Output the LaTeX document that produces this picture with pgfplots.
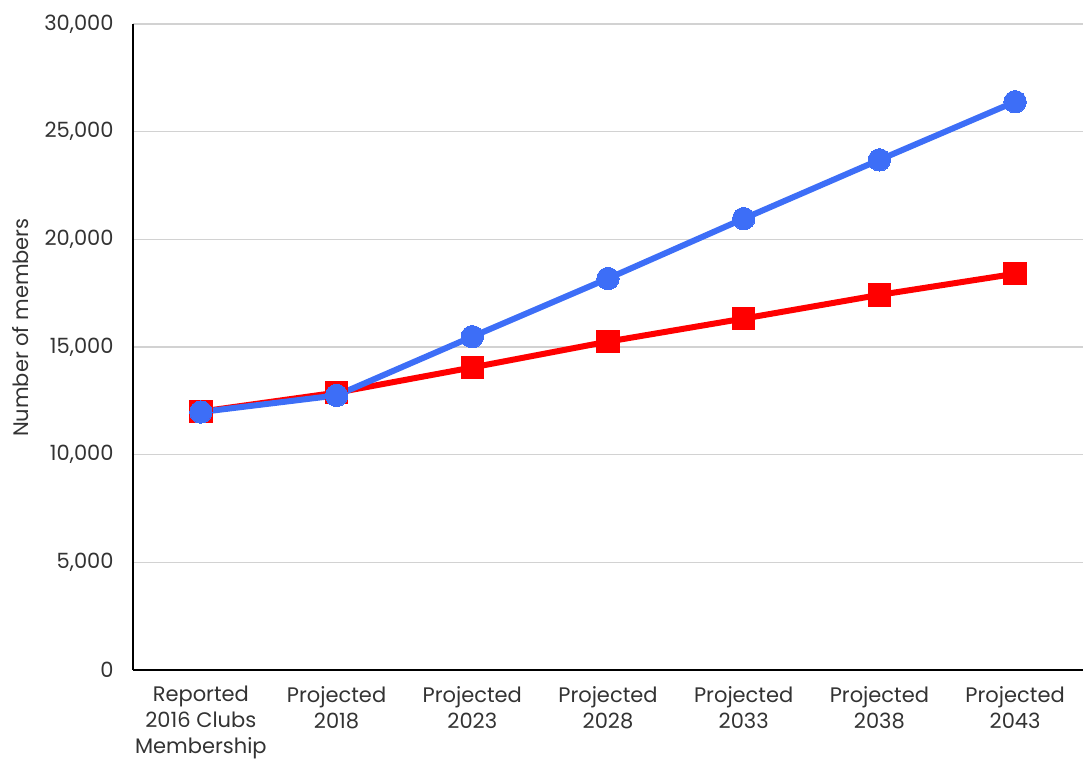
\documentclass[border=0pt]{standalone}
\usepackage{pgfplots}
\pgfplotsset{compat=1.18}
\usepackage{fontspec}
\setmainfont{Poppins}
\definecolor{myblue}{HTML}{3D6EF7}
\definecolor{myred}{HTML}{FF0000}
\begin{document}
\fontsize{10.5}{13.5}\selectfont
\begin{tikzpicture}
\begin{axis}[
  at={(0,0)}, anchor=south west,
  scale only axis, width=475pt, height=323pt,
  xmin=-0.5, xmax=6.5, ymin=0, ymax=30000,
  axis x line=bottom, axis y line=left,
  axis line style={black, line width=1pt, -},
  xtick={0,...,6},
  xticklabels={{Reported\\2016 Clubs\\Membership},{Projected\\2018},{Projected\\2023},{Projected\\2028},{Projected\\2033},{Projected\\2038},{Projected\\2043}},
  xticklabel style={align=center, font=\fontsize{10.5}{13}\selectfont, color=black!80, yshift=-4.5pt},
  ytick={0,5000,...,30000},
  yticklabel style={font=\fontsize{10.5}{13.5}\selectfont, color=black!80, xshift=-6pt},
  major tick length=0pt,
  ymajorgrids, grid style={gray!35, line width=0.8pt},
  /pgf/number format/.cd, 1000 sep={,}, assume math mode=true, /pgfplots/.cd,
  scaled y ticks=false,
  ylabel={Number of members},
  every axis y label/.style={at={(axis description cs:0,0.53)}, xshift=-56pt, rotate=90, anchor=center, font=\fontsize{10.5}{13.5}\selectfont, color=black!80},
  clip=false,
]
\addplot[myred, line width=3pt, mark=square*, mark size=5.6pt, mark options={solid, fill=myred, draw=myred, line width=0pt}] coordinates {
(0,12000) (1,12880) (2,14050) (3,15250) (4,16320) (5,17420) (6,18400)};
\addplot[myblue, line width=3pt, mark=*, mark size=5.6pt, mark options={solid, fill=myblue, draw=myblue, line width=0pt}] coordinates {
(0,11980) (1,12750) (2,15480) (3,18180) (4,20960) (5,23690) (6,26390)};
\end{axis}
\pgfresetboundingbox
\useasboundingbox (-66.5pt,-46.5pt) rectangle (475pt,335pt);
\end{tikzpicture}
\end{document}
